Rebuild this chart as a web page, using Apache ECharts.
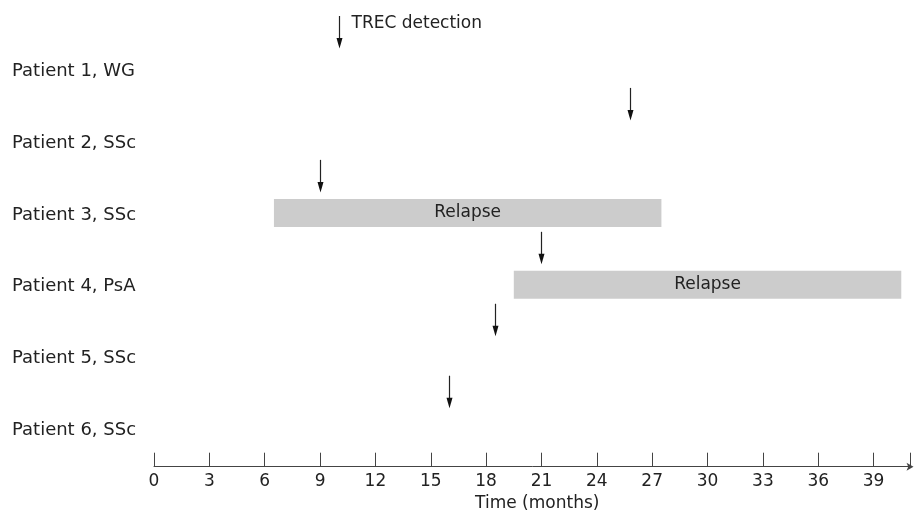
<!DOCTYPE html>
<html><head><meta charset="utf-8">
<script src="https://cdn.jsdelivr.net/npm/echarts@6/dist/echarts.min.js"></script>
<style>html,body{margin:0;padding:0;background:#fff}#c{width:914px;height:518px}</style>
</head><body><div id="c"></div>
<script>
const patients = ['Patient 1, WG','Patient 2, SSc','Patient 3, SSc','Patient 4, PsA','Patient 5, SSc','Patient 6, SSc'];
const trecMonths = [10, 25.8, 9, 21, 18.5, 16];
const trecLabel = 'TREC detection';
const relapsePatients = [2, 3];
const relapseStart = [6.5, 19.5];
const relapseEnd = [27.5, 40.5];
const relapseLabel = 'Relapse';
const xMin = 0, xMax = 41, xStep = 3;
const axisName = 'Time (months)';

const FONT = 'DejaVu Sans';
const TXT = '#222';

const arrowData = trecMonths.map((m, i) => [m, i]);
const relapseData = relapsePatients.map((p, i) => [relapseStart[i], relapseEnd[i], p]);

const chart = echarts.init(document.getElementById('c'));
chart.setOption({
  animation: false,
  textStyle: {fontFamily: FONT},
  grid: {left: 154, right: 3.5, top: 35, height: 431.7, containLabel: false},
  xAxis: {
    type: 'value', min: xMin, max: xMax, interval: xStep,
    name: axisName, nameLocation: 'middle', nameGap: 22,
    nameTextStyle: {fontFamily: FONT, fontSize: 17, color: TXT, padding: [0, 0, 0, 10]},
    axisLine: {show: true, lineStyle: {color: '#444', width: 1}, symbol: ['none', 'arrow'], symbolSize: [6, 7], symbolOffset: [0, 3]},
    axisTick: {show: true, inside: true, length: 14, lineStyle: {color: '#444', width: 1}},
    axisLabel: {fontFamily: FONT, fontSize: 17, color: TXT, margin: 6,
      formatter: v => (v > 39 ? '' : String(v))},
    splitLine: {show: false}
  },
  yAxis: {
    type: 'category', data: patients, inverse: true,
    axisLine: {show: false}, axisTick: {show: false}, splitLine: {show: false},
    axisLabel: {fontFamily: FONT, fontSize: 18, color: TXT, align: 'left', margin: 142}
  },
  series: [
    {
      type: 'custom',
      data: relapseData,
      encode: {x: [0, 1], y: 2},
      renderItem: function (params, api) {
        const a = api.coord([api.value(0), api.value(2)]);
        const b = api.coord([api.value(1), api.value(2)]);
        const h = 28;
        return {
          type: 'rect',
          shape: {x: a[0], y: a[1] - h / 2 - 2, width: b[0] - a[0], height: h},
          style: {fill: '#cccccc'},
          textContent: {style: {text: relapseLabel, fill: TXT, font: '17px "' + FONT + '"'}},
          textConfig: {position: 'inside'}
        };
      }
    },
    {
      type: 'custom',
      data: arrowData,
      encode: {x: 0, y: 1},
      renderItem: function (params, api) {
        const p = api.coord([api.value(0), api.value(1)]);
        const x = Math.round(p[0]) + 0.5, y = p[1];
        const children = [
          {type: 'line', shape: {x1: x, y1: y - 55, x2: x, y2: y - 31},
           style: {stroke: '#222', lineWidth: 1.2}},
          {type: 'polygon', shape: {points: [[x - 3, y - 33], [x + 3, y - 33], [x, y - 22.5]]},
           style: {fill: '#111'}}
        ];
        if (params.dataIndex === 0) {
          children.push({type: 'text', x: x + 12, y: y - 47,
            style: {text: trecLabel, fill: TXT, font: '17px "' + FONT + '"', verticalAlign: 'middle'}});
        }
        return {type: 'group', children: children};
      }
    }
  ]
});
</script>
</body></html>
